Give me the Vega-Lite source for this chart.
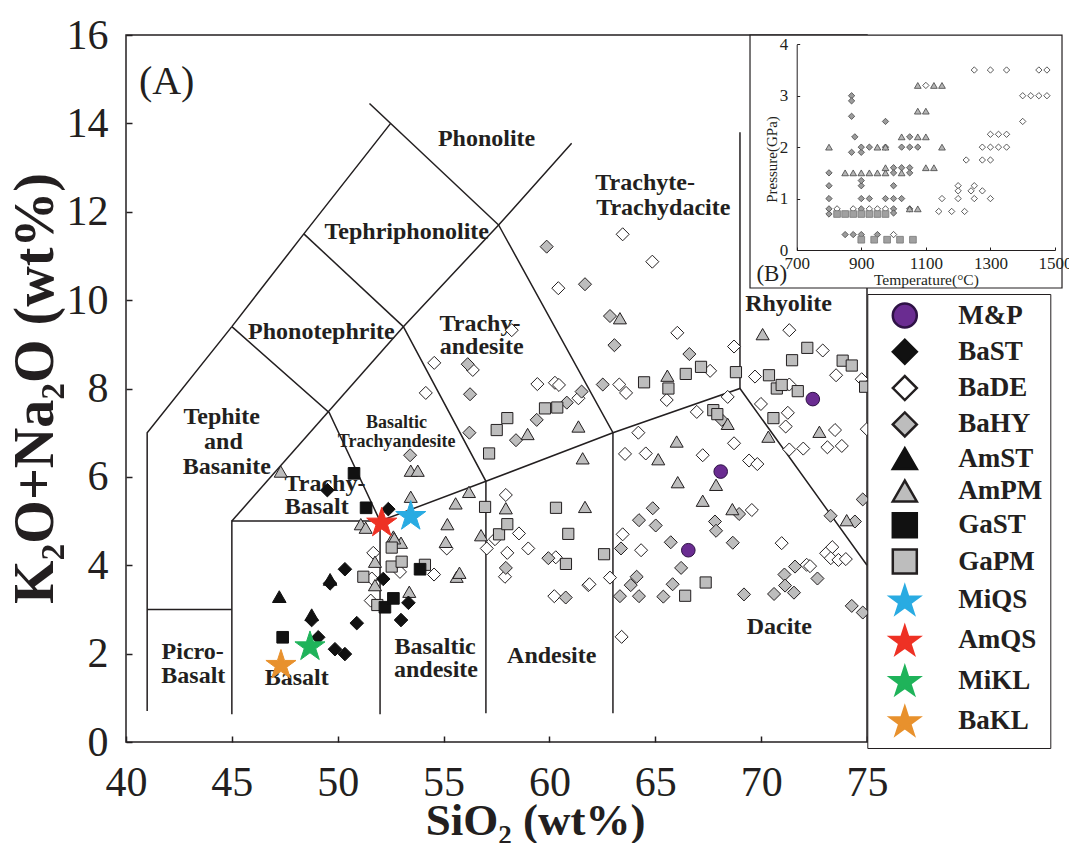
{
"$schema": "https://vega.github.io/schema/vega-lite/v6.json",
"width": 741, "height": 707,
"autosize": {"type": "none"},
"padding": {"left": 126, "top": 35, "right": 202, "bottom": 101},
"background": "white",
"config": {"view": {"stroke": "#231f20", "strokeWidth": 1.5}, "font": "Liberation Serif", "axis": {"grid": false}},
"datasets": {
"bounds": [
{"seg":"a","o":0,"x":51.5,"y":14.45},{"seg":"a","o":1,"x":57.6,"y":11.7},
{"seg":"b","o":0,"x":45,"y":9.4},{"seg":"b","o":1,"x":48.4,"y":11.5},{"seg":"b","o":2,"x":52.5,"y":14.0},
{"seg":"c","o":0,"x":48.4,"y":11.5},{"seg":"c","o":1,"x":53.1,"y":9.4},
{"seg":"d","o":0,"x":53.1,"y":9.4},{"seg":"d","o":1,"x":57.6,"y":11.7},{"seg":"d","o":2,"x":61.05,"y":13.55},
{"seg":"e","o":0,"x":41,"y":0.7},{"seg":"e","o":1,"x":41,"y":7},{"seg":"e","o":2,"x":45,"y":9.4},
{"seg":"f","o":0,"x":45,"y":9.4},{"seg":"f","o":1,"x":49.6,"y":7.45},{"seg":"f","o":2,"x":52,"y":5},
{"seg":"g","o":0,"x":41,"y":3},{"seg":"g","o":1,"x":45,"y":3},
{"seg":"h","o":0,"x":45,"y":0.63},{"seg":"h","o":1,"x":45,"y":5},{"seg":"h","o":2,"x":52,"y":5},
{"seg":"i","o":0,"x":45,"y":5},{"seg":"i","o":1,"x":53.1,"y":9.4},
{"seg":"j","o":0,"x":52,"y":0.63},{"seg":"j","o":1,"x":52,"y":5},{"seg":"j","o":2,"x":57,"y":5.9},{"seg":"j","o":3,"x":63,"y":7},{"seg":"j","o":4,"x":69,"y":8},{"seg":"j","o":5,"x":75,"y":4},
{"seg":"k","o":0,"x":53.1,"y":9.4},{"seg":"k","o":1,"x":57,"y":5.9},{"seg":"k","o":2,"x":57,"y":0.65},
{"seg":"l","o":0,"x":57.6,"y":11.7},{"seg":"l","o":1,"x":63,"y":7},{"seg":"l","o":2,"x":63,"y":0.65},
{"seg":"m","o":0,"x":69,"y":8},{"seg":"m","o":1,"x":69,"y":13.8}
],
"labelsBig": [
{"t":"Phonolite","x":57.03,"y":13.64},{"t":"Tephriphonolite","x":53.26,"y":11.55},
{"t":"Trachyte-","x":64.52,"y":12.66},{"t":"Trachydacite","x":65.38,"y":12.08},
{"t":"Rhyolite","x":71.29,"y":9.91},{"t":"Phonotephrite","x":49.23,"y":9.28},
{"t":"Trachy-","x":56.72,"y":9.47},{"t":"andesite","x":56.8,"y":8.93},
{"t":"Tephite","x":44.52,"y":7.35},{"t":"and","x":44.6,"y":6.78},{"t":"Basanite","x":44.76,"y":6.23},
{"t":"Trachy-","x":49.4,"y":5.85},{"t":"Basalt","x":49.01,"y":5.32},
{"t":"Picro-","x":43.15,"y":2.04},{"t":"Basalt","x":43.18,"y":1.49},
{"t":"Basalt","x":48.06,"y":1.44},
{"t":"Basaltic","x":54.6,"y":2.15},{"t":"andesite","x":54.64,"y":1.63},
{"t":"Andesite","x":60.11,"y":1.95},{"t":"Dacite","x":70.86,"y":2.6}
],
"labelsSmall": [
{"t":"Basaltic","x":52.78,"y":7.23},{"t":"Trachyandesite","x":52.78,"y":6.8}
],
"pts": [
{"g":"BaDE","x":51.68,"y":4.28},{"g":"BaDE","x":52.94,"y":3.85},{"g":"BaDE","x":54.55,"y":3.79},{"g":"BaDE","x":51.56,"y":3.2},{"g":"BaDE","x":51.61,"y":3.7},{"g":"BaDE","x":54.16,"y":7.9},{"g":"BaDE","x":55.15,"y":4.38},{"g":"BaDE","x":57.43,"y":4.59},{"g":"BaDE","x":57.94,"y":5.59},{"g":"BaDE","x":58.56,"y":4.72},{"g":"BaDE","x":57.04,"y":4.38},{"g":"BaDE","x":58.01,"y":4.28},{"g":"BaDE","x":59.0,"y":4.38},{"g":"BaDE","x":60.3,"y":4.18},{"g":"BaDE","x":57.9,"y":3.74},{"g":"BaDE","x":60.23,"y":3.3},{"g":"BaDE","x":61.84,"y":3.55},{"g":"BaDE","x":60.42,"y":10.27},{"g":"BaDE","x":58.22,"y":9.32},{"g":"BaDE","x":54.56,"y":8.58},{"g":"BaDE","x":56.38,"y":8.42},{"g":"BaDE","x":59.43,"y":8.1},{"g":"BaDE","x":60.26,"y":8.13},{"g":"BaDE","x":60.45,"y":8.08},{"g":"BaDE","x":61.37,"y":7.78},{"g":"BaDE","x":63.46,"y":11.49},{"g":"BaDE","x":64.86,"y":10.87},{"g":"BaDE","x":66.04,"y":9.26},{"g":"BaDE","x":68.72,"y":8.95},{"g":"BaDE","x":67.59,"y":8.4},{"g":"BaDE","x":65.54,"y":7.74},{"g":"BaDE","x":63.3,"y":8.09},{"g":"BaDE","x":63.62,"y":7.9},{"g":"BaDE","x":71.33,"y":9.32},{"g":"BaDE","x":72.91,"y":8.86},{"g":"BaDE","x":74.75,"y":8.21},{"g":"BaDE","x":73.54,"y":8.3},{"g":"BaDE","x":69.71,"y":8.27},{"g":"BaDE","x":71.33,"y":8.09},{"g":"BaDE","x":69.99,"y":7.65},{"g":"BaDE","x":71.26,"y":7.45},{"g":"BaDE","x":71.16,"y":7.14},{"g":"BaDE","x":73.49,"y":7.06},{"g":"BaDE","x":74.99,"y":7.08},{"g":"BaDE","x":68.42,"y":7.81},{"g":"BaDE","x":66.96,"y":7.47},{"g":"BaDE","x":64.2,"y":7.0},{"g":"BaDE","x":68.72,"y":6.76},{"g":"BaDE","x":71.33,"y":6.62},{"g":"BaDE","x":71.99,"y":6.64},{"g":"BaDE","x":73.13,"y":6.67},{"g":"BaDE","x":73.81,"y":6.7},{"g":"BaDE","x":63.57,"y":6.52},{"g":"BaDE","x":64.55,"y":6.53},{"g":"BaDE","x":67.24,"y":6.49},{"g":"BaDE","x":69.43,"y":6.37},{"g":"BaDE","x":69.82,"y":6.29},{"g":"BaDE","x":69.56,"y":5.25},{"g":"BaDE","x":63.46,"y":4.7},{"g":"BaDE","x":64.33,"y":4.34},{"g":"BaDE","x":70.97,"y":4.5},{"g":"BaDE","x":73.07,"y":4.27},{"g":"BaDE","x":73.36,"y":4.41},{"g":"BaDE","x":73.29,"y":4.16},{"g":"BaDE","x":73.65,"y":4.12},{"g":"BaDE","x":74.0,"y":4.14},{"g":"BaDE","x":72.15,"y":4.01},{"g":"BaDE","x":72.31,"y":3.98},{"g":"BaDE","x":61.89,"y":3.57},{"g":"BaDE","x":62.86,"y":3.72},{"g":"BaDE","x":63.41,"y":2.38},
{"g":"BaHY","x":53.42,"y":6.49},{"g":"BaHY","x":59.87,"y":11.21},{"g":"BaHY","x":61.68,"y":10.36},{"g":"BaHY","x":56.14,"y":8.55},{"g":"BaHY","x":56.25,"y":7.87},{"g":"BaHY","x":56.22,"y":7.0},{"g":"BaHY","x":60.82,"y":7.68},{"g":"BaHY","x":61.52,"y":7.93},{"g":"BaHY","x":59.4,"y":7.29},{"g":"BaHY","x":58.42,"y":6.83},{"g":"BaHY","x":62.86,"y":9.64},{"g":"BaHY","x":63.07,"y":8.98},{"g":"BaHY","x":66.61,"y":8.78},{"g":"BaHY","x":62.52,"y":8.09},{"g":"BaHY","x":68.14,"y":7.29},{"g":"BaHY","x":59.95,"y":4.16},{"g":"BaHY","x":60.77,"y":3.27},{"g":"BaHY","x":57.94,"y":3.94},{"g":"BaHY","x":74.8,"y":5.49},{"g":"BaHY","x":68.96,"y":5.16},{"g":"BaHY","x":64.88,"y":5.29},{"g":"BaHY","x":64.23,"y":5.02},{"g":"BaHY","x":65.02,"y":4.9},{"g":"BaHY","x":63.38,"y":4.38},{"g":"BaHY","x":65.73,"y":4.52},{"g":"BaHY","x":67.82,"y":4.99},{"g":"BaHY","x":67.87,"y":4.78},{"g":"BaHY","x":68.66,"y":4.51},{"g":"BaHY","x":73.28,"y":5.12},{"g":"BaHY","x":74.43,"y":4.99},{"g":"BaHY","x":71.6,"y":3.97},{"g":"BaHY","x":72.66,"y":3.7},{"g":"BaHY","x":71.1,"y":3.79},{"g":"BaHY","x":71.13,"y":3.54},{"g":"BaHY","x":71.55,"y":3.38},{"g":"BaHY","x":70.61,"y":3.35},{"g":"BaHY","x":69.19,"y":3.34},{"g":"BaHY","x":74.28,"y":3.08},{"g":"BaHY","x":74.8,"y":2.93},{"g":"BaHY","x":64.12,"y":3.74},{"g":"BaHY","x":63.84,"y":3.55},{"g":"BaHY","x":63.33,"y":3.3},{"g":"BaHY","x":64.23,"y":3.3},{"g":"BaHY","x":65.38,"y":3.29},{"g":"BaHY","x":65.82,"y":3.57},{"g":"BaHY","x":66.22,"y":3.94},
{"g":"AmPM","x":47.31,"y":6.12},{"g":"AmPM","x":51.09,"y":4.93},{"g":"AmPM","x":51.32,"y":4.85},{"g":"AmPM","x":53.45,"y":5.55},{"g":"AmPM","x":53.45,"y":6.14},{"g":"AmPM","x":53.78,"y":6.14},{"g":"AmPM","x":52.63,"y":4.65},{"g":"AmPM","x":52.99,"y":4.51},{"g":"AmPM","x":51.76,"y":4.08},{"g":"AmPM","x":51.76,"y":3.55},{"g":"AmPM","x":53.38,"y":3.4},{"g":"AmPM","x":52.67,"y":4.61},{"g":"AmPM","x":61.57,"y":6.42},{"g":"AmPM","x":56.2,"y":5.66},{"g":"AmPM","x":55.57,"y":5.4},{"g":"AmPM","x":57.94,"y":5.29},{"g":"AmPM","x":61.68,"y":5.32},{"g":"AmPM","x":55.18,"y":4.93},{"g":"AmPM","x":55.1,"y":4.53},{"g":"AmPM","x":56.77,"y":4.68},{"g":"AmPM","x":55.62,"y":3.74},{"g":"AmPM","x":55.75,"y":3.83},{"g":"AmPM","x":58.97,"y":6.97},{"g":"AmPM","x":61.37,"y":7.14},{"g":"AmPM","x":63.33,"y":9.59},{"g":"AmPM","x":65.57,"y":8.29},{"g":"AmPM","x":70.07,"y":9.23},{"g":"AmPM","x":72.75,"y":7.02},{"g":"AmPM","x":70.34,"y":6.91},{"g":"AmPM","x":68.42,"y":7.2},{"g":"AmPM","x":66.01,"y":6.8},{"g":"AmPM","x":65.14,"y":6.4},{"g":"AmPM","x":66.06,"y":5.88},{"g":"AmPM","x":67.87,"y":5.82},{"g":"AmPM","x":67.24,"y":5.46},{"g":"AmPM","x":68.64,"y":5.27},{"g":"AmPM","x":74.04,"y":5.02},
{"g":"GaPM","x":52.55,"y":4.4},{"g":"GaPM","x":52.55,"y":3.97},{"g":"GaPM","x":53.02,"y":4.08},{"g":"GaPM","x":54.12,"y":4.01},{"g":"GaPM","x":51.21,"y":3.74},{"g":"GaPM","x":51.87,"y":3.1},{"g":"GaPM","x":57.15,"y":6.53},{"g":"GaPM","x":56.96,"y":5.32},{"g":"GaPM","x":60.31,"y":5.3},{"g":"GaPM","x":57.62,"y":4.7},{"g":"GaPM","x":58.01,"y":4.93},{"g":"GaPM","x":60.89,"y":4.71},{"g":"GaPM","x":60.78,"y":4.03},{"g":"GaPM","x":59.79,"y":7.55},{"g":"GaPM","x":60.37,"y":7.57},{"g":"GaPM","x":58.01,"y":7.33},{"g":"GaPM","x":57.51,"y":7.06},{"g":"GaPM","x":67.16,"y":8.49},{"g":"GaPM","x":66.44,"y":8.33},{"g":"GaPM","x":65.62,"y":8.0},{"g":"GaPM","x":64.47,"y":8.14},{"g":"GaPM","x":68.81,"y":8.37},{"g":"GaPM","x":72.18,"y":8.92},{"g":"GaPM","x":71.46,"y":8.64},{"g":"GaPM","x":73.85,"y":8.63},{"g":"GaPM","x":74.28,"y":8.52},{"g":"GaPM","x":74.91,"y":8.04},{"g":"GaPM","x":70.37,"y":8.3},{"g":"GaPM","x":70.74,"y":8.0},{"g":"GaPM","x":70.97,"y":8.08},{"g":"GaPM","x":71.73,"y":7.94},{"g":"GaPM","x":70.58,"y":7.33},{"g":"GaPM","x":67.74,"y":7.51},{"g":"GaPM","x":67.93,"y":7.42},{"g":"GaPM","x":62.58,"y":4.25},{"g":"GaPM","x":66.41,"y":3.31},{"g":"GaPM","x":67.38,"y":3.61},
{"g":"BaST","x":48.77,"y":2.76},{"g":"BaST","x":49.08,"y":2.37},{"g":"BaST","x":49.87,"y":2.1},{"g":"BaST","x":50.34,"y":1.99},{"g":"BaST","x":50.9,"y":2.69},{"g":"BaST","x":49.64,"y":3.59},{"g":"BaST","x":50.34,"y":3.91},{"g":"BaST","x":49.51,"y":5.7},{"g":"BaST","x":52.39,"y":5.27},{"g":"BaST","x":52.15,"y":3.69},{"g":"BaST","x":53.34,"y":3.15},{"g":"BaST","x":52.99,"y":2.76},
{"g":"AmST","x":47.24,"y":3.29},{"g":"AmST","x":48.77,"y":2.88},{"g":"AmST","x":49.64,"y":3.68},
{"g":"GaST","x":47.4,"y":2.37},{"g":"GaST","x":50.77,"y":6.08},{"g":"GaST","x":51.34,"y":5.3},{"g":"GaST","x":53.89,"y":3.91},{"g":"GaST","x":52.23,"y":3.05},{"g":"GaST","x":52.63,"y":3.25},
{"g":"M&P","x":72.44,"y":7.76},{"g":"M&P","x":68.09,"y":6.12},{"g":"M&P","x":66.56,"y":4.34},
{"g":"MiQS","x":53.45,"y":5.14},{"g":"AmQS","x":52.08,"y":4.99},{"g":"MiKL","x":48.69,"y":2.19},{"g":"BaKL","x":47.32,"y":1.77}
],
"inset": [
{"g":"BaDE","t":1250,"p":3.5},{"g":"BaDE","t":1300,"p":3.5},{"g":"BaDE","t":1350,"p":3.5},{"g":"BaDE","t":1450,"p":3.5},{"g":"BaDE","t":1475,"p":3.5},{"g":"BaDE","t":1400,"p":3.0},{"g":"BaDE","t":1425,"p":3.0},{"g":"BaDE","t":1450,"p":3.0},{"g":"BaDE","t":1475,"p":3.0},{"g":"BaDE","t":1400,"p":2.5},{"g":"BaDE","t":1100,"p":3.2},{"g":"BaDE","t":1300,"p":2.25},{"g":"BaDE","t":1325,"p":2.25},{"g":"BaDE","t":1350,"p":2.25},{"g":"BaDE","t":1275,"p":2.0},{"g":"BaDE","t":1300,"p":2.0},{"g":"BaDE","t":1325,"p":2.0},{"g":"BaDE","t":1350,"p":2.0},{"g":"BaDE","t":1225,"p":1.75},{"g":"BaDE","t":1275,"p":1.75},{"g":"BaDE","t":1300,"p":1.75},{"g":"BaDE","t":1200,"p":1.25},{"g":"BaDE","t":1200,"p":1.15},{"g":"BaDE","t":1240,"p":1.15},{"g":"BaDE","t":1250,"p":1.25},{"g":"BaDE","t":1275,"p":1.15},{"g":"BaDE","t":1150,"p":1.0},{"g":"BaDE","t":1200,"p":1.0},{"g":"BaDE","t":1250,"p":1.0},{"g":"BaDE","t":1300,"p":1.0},{"g":"BaDE","t":1140,"p":0.75},{"g":"BaDE","t":1180,"p":0.75},{"g":"BaDE","t":1220,"p":0.75},{"g":"BaDE","t":1000,"p":0.3},{"g":"BaDE","t":825,"p":0.8},{"g":"BaDE","t":875,"p":0.8},{"g":"BaDE","t":925,"p":0.8},{"g":"BaDE","t":950,"p":0.8},{"g":"BaDE","t":975,"p":0.8},
{"g":"BaHY","t":870,"p":3.0},{"g":"BaHY","t":870,"p":2.9},{"g":"BaHY","t":870,"p":2.6},{"g":"BaHY","t":880,"p":2.2},{"g":"BaHY","t":870,"p":1.9},{"g":"BaHY","t":900,"p":1.9},{"g":"BaHY","t":975,"p":2.5},{"g":"BaHY","t":900,"p":2.0},{"g":"BaHY","t":925,"p":2.0},{"g":"BaHY","t":975,"p":2.0},{"g":"BaHY","t":1025,"p":2.0},{"g":"BaHY","t":1050,"p":2.0},{"g":"BaHY","t":1075,"p":2.0},{"g":"BaHY","t":1050,"p":2.2},{"g":"BaHY","t":1000,"p":1.6},{"g":"BaHY","t":1025,"p":1.6},{"g":"BaHY","t":1050,"p":1.6},{"g":"BaHY","t":800,"p":1.5},{"g":"BaHY","t":1000,"p":1.5},{"g":"BaHY","t":1050,"p":1.5},{"g":"BaHY","t":800,"p":1.25},{"g":"BaHY","t":900,"p":1.25},{"g":"BaHY","t":900,"p":1.35},{"g":"BaHY","t":1000,"p":1.25},{"g":"BaHY","t":800,"p":1.0},{"g":"BaHY","t":900,"p":1.0},{"g":"BaHY","t":925,"p":1.0},{"g":"BaHY","t":975,"p":1.0},{"g":"BaHY","t":1000,"p":1.0},{"g":"BaHY","t":1025,"p":1.0},{"g":"BaHY","t":800,"p":0.8},{"g":"BaHY","t":900,"p":0.8},{"g":"BaHY","t":1000,"p":0.8},{"g":"BaHY","t":1000,"p":0.72},{"g":"BaHY","t":1050,"p":0.8},{"g":"BaHY","t":800,"p":0.7},{"g":"BaHY","t":850,"p":0.3},{"g":"BaHY","t":875,"p":0.3},{"g":"BaHY","t":900,"p":0.3},{"g":"BaHY","t":950,"p":0.3},
{"g":"AmPM","t":800,"p":2.0},{"g":"AmPM","t":950,"p":2.0},{"g":"AmPM","t":1150,"p":2.0},{"g":"AmPM","t":975,"p":2.0},{"g":"AmPM","t":1075,"p":3.2},{"g":"AmPM","t":1125,"p":3.2},{"g":"AmPM","t":1150,"p":3.2},{"g":"AmPM","t":1075,"p":2.7},{"g":"AmPM","t":1100,"p":2.7},{"g":"AmPM","t":850,"p":1.5},{"g":"AmPM","t":875,"p":1.5},{"g":"AmPM","t":900,"p":1.5},{"g":"AmPM","t":925,"p":1.5},{"g":"AmPM","t":950,"p":1.5},{"g":"AmPM","t":975,"p":1.5},{"g":"AmPM","t":975,"p":1.6},{"g":"AmPM","t":1025,"p":1.5},{"g":"AmPM","t":1100,"p":1.6},{"g":"AmPM","t":1125,"p":1.6},{"g":"AmPM","t":1025,"p":2.2},{"g":"AmPM","t":1075,"p":2.2},{"g":"AmPM","t":1100,"p":2.2},{"g":"AmPM","t":1075,"p":0.8},{"g":"AmPM","t":1050,"p":0.8},
{"g":"GaPM","t":825,"p":0.7},{"g":"GaPM","t":850,"p":0.7},{"g":"GaPM","t":875,"p":0.7},{"g":"GaPM","t":900,"p":0.7},{"g":"GaPM","t":925,"p":0.7},{"g":"GaPM","t":950,"p":0.7},{"g":"GaPM","t":975,"p":0.7},{"g":"GaPM","t":900,"p":0.2},{"g":"GaPM","t":940,"p":0.2},{"g":"GaPM","t":980,"p":0.2},{"g":"GaPM","t":1020,"p":0.2},{"g":"GaPM","t":1060,"p":0.2}
]
},
"layer": [
{
"layer": [
{"data": {"name": "bounds"}, "mark": {"type": "line", "stroke": "#231f20", "strokeWidth": 1.5},
 "encoding": {
  "x": {"field": "x", "type": "quantitative", "scale": {"domain": [40, 75], "nice": false, "zero": false},
   "axis": {"values": [40,45,50,55,60,65,70,75], "domain": false, "tickSize": -6, "tickWidth": 1.5, "tickColor": "#231f20", "labelFontSize": 42, "labelColor": "#231f20", "labelPadding": 26, "labelDx": 12, "labelFlush": false, "labelOverlap": false, "title": "SiO₂ (wt%)", "titleFontSize": 45, "titleFontWeight": "bold", "titleColor": "#231f20", "titleX": 409, "titleY": 92, "titleBaseline": "alphabetic"}},
  "y": {"field": "y", "type": "quantitative", "scale": {"domain": [0, 16], "nice": false, "zero": false},
   "axis": {"values": [0,2,4,6,8,10,12,14,16], "domain": false, "tickSize": -6, "tickWidth": 1.5, "tickColor": "#231f20", "labelFontSize": 42, "labelColor": "#231f20", "labelPadding": 24, "labelDy": -2, "labelFlush": false, "labelOverlap": false, "title": "K₂O+Na₂O (wt%)", "titleFontSize": 56, "titleFontWeight": "bold", "titleColor": "#231f20", "titleX": -74, "titleY": 353, "titleAngle": -90, "titleAlign": "center", "titleBaseline": "alphabetic"}},
  "detail": {"field": "seg"},
  "order": {"field": "o"}
 }},
{"data": {"name": "labelsBig"}, "mark": {"type": "text", "font": "Liberation Serif", "fontWeight": "bold", "fontSize": 24, "color": "#231f20", "align": "center", "baseline": "middle"},
 "encoding": {"x": {"field": "x", "type": "quantitative"}, "y": {"field": "y", "type": "quantitative"}, "text": {"field": "t"}}},
{"data": {"name": "labelsSmall"}, "mark": {"type": "text", "font": "Liberation Serif", "fontWeight": "bold", "fontSize": 18, "color": "#231f20", "align": "center", "baseline": "middle"},
 "encoding": {"x": {"field": "x", "type": "quantitative"}, "y": {"field": "y", "type": "quantitative"}, "text": {"field": "t"}}},
{"data": {"values": [{}]}, "mark": {"type": "text", "text": "(A)", "font": "Liberation Serif", "fontSize": 40, "color": "#231f20", "align": "center", "baseline": "middle"},
 "encoding": {"x": {"datum": 41.92, "type": "quantitative"}, "y": {"datum": 14.94, "type": "quantitative"}}},
{"data": {"name": "pts"}, "transform": [{"filter": {"field": "g", "oneOf": ["BaDE","BaHY","AmPM"]}}],
 "mark": {"type": "point", "filled": true, "opacity": 1, "strokeWidth": 1, "size": 170},
 "encoding": {
  "x": {"field": "x", "type": "quantitative"},
  "y": {"field": "y", "type": "quantitative"},
  "shape": {"field": "g", "type": "nominal",
   "scale": {"domain": ["M&P","BaST","BaDE","BaHY","AmST","AmPM","GaST","GaPM","MiQS","AmQS","MiKL","BaKL"],
    "range": ["circle","diamond","diamond","diamond","triangle-up","triangle-up","square","square",
     "M0,-1.13L0.281,-0.266L1.189,-0.266L0.454,0.268L0.735,1.131L0,0.598L-0.735,1.131L-0.454,0.268L-1.189,-0.266L-0.281,-0.266Z",
     "M0,-1.13L0.281,-0.266L1.189,-0.266L0.454,0.268L0.735,1.131L0,0.598L-0.735,1.131L-0.454,0.268L-1.189,-0.266L-0.281,-0.266Z",
     "M0,-1.13L0.281,-0.266L1.189,-0.266L0.454,0.268L0.735,1.131L0,0.598L-0.735,1.131L-0.454,0.268L-1.189,-0.266L-0.281,-0.266Z",
     "M0,-1.13L0.281,-0.266L1.189,-0.266L0.454,0.268L0.735,1.131L0,0.598L-0.735,1.131L-0.454,0.268L-1.189,-0.266L-0.281,-0.266Z"]},
   "legend": {"orient": "none", "legendX": 741.3, "legendY": 259, "title": null, "padding": 8, "fillColor": "white", "strokeColor": "#231f20", "symbolSize": 576, "symbolStrokeWidth": 2.5, "labelFont": "Liberation Serif", "labelFontSize": 27, "labelFontWeight": "bold", "labelColor": "#231f20", "labelOffset": 40, "symbolOffset": 16, "rowPadding": 1.3, "labelLimit": 200}},
  "fill": {"field": "g", "type": "nominal",
   "scale": {"domain": ["M&P","BaST","BaDE","BaHY","AmST","AmPM","GaST","GaPM","MiQS","AmQS","MiKL","BaKL"],
    "range": ["#6a2c91","#111111","#ffffff","#bdbdbd","#111111","#bdbdbd","#111111","#bdbdbd","#29abe2","#ee3124","#1fb35a","#e8912d"]}},
  "stroke": {"field": "g", "type": "nominal",
   "scale": {"domain": ["M&P","BaST","BaDE","BaHY","AmST","AmPM","GaST","GaPM","MiQS","AmQS","MiKL","BaKL"],
    "range": ["#2e1245","#111111","#231f20","#231f20","#111111","#231f20","#111111","#231f20","#29abe2","#ee3124","#1fb35a","#e8912d"]}}
 }},
{"data": {"name": "pts"}, "transform": [{"filter": {"field": "g", "oneOf": ["GaPM"]}}],
 "mark": {"type": "point", "filled": true, "opacity": 1, "strokeWidth": 1, "size": 125},
 "encoding": {"x": {"field": "x", "type": "quantitative"}, "y": {"field": "y", "type": "quantitative"},
  "shape": {"field": "g", "type": "nominal"}, "fill": {"field": "g", "type": "nominal"}, "stroke": {"field": "g", "type": "nominal"}}},
{"data": {"name": "pts"}, "transform": [{"filter": {"field": "g", "oneOf": ["BaST","AmST","M&P"]}}],
 "mark": {"type": "point", "filled": true, "opacity": 1, "strokeWidth": 1, "size": 185},
 "encoding": {"x": {"field": "x", "type": "quantitative"}, "y": {"field": "y", "type": "quantitative"},
  "shape": {"field": "g", "type": "nominal"}, "fill": {"field": "g", "type": "nominal"}, "stroke": {"field": "g", "type": "nominal"}}},
{"data": {"name": "pts"}, "transform": [{"filter": {"field": "g", "oneOf": ["GaST"]}}],
 "mark": {"type": "point", "filled": true, "opacity": 1, "strokeWidth": 1, "size": 135},
 "encoding": {"x": {"field": "x", "type": "quantitative"}, "y": {"field": "y", "type": "quantitative"},
  "shape": {"field": "g", "type": "nominal"}, "fill": {"field": "g", "type": "nominal"}, "stroke": {"field": "g", "type": "nominal"}}},
{"data": {"name": "pts"}, "transform": [{"filter": {"field": "g", "oneOf": ["MiQS","AmQS","MiKL","BaKL"]}}],
 "mark": {"type": "point", "filled": true, "opacity": 1, "strokeWidth": 1, "size": 640},
 "encoding": {"x": {"field": "x", "type": "quantitative"}, "y": {"field": "y", "type": "quantitative"},
  "shape": {"field": "g", "type": "nominal"}, "fill": {"field": "g", "type": "nominal"}, "stroke": {"field": "g", "type": "nominal"}}}
]
},
{
"layer": [
{"data": {"values": [{}]}, "mark": {"type": "rect", "fill": "white", "stroke": "#231f20", "strokeWidth": 1.2},
 "encoding": {
  "x": {"datum": 555.4, "type": "quantitative", "scale": {"domain": [700, 1500], "range": [670.7, 929], "nice": false, "zero": false},
   "axis": {"orient": "bottom", "offset": -492, "values": [700,900,1100,1300,1500], "format": "d", "tickSize": -3, "tickColor": "#231f20", "domainColor": "#231f20", "labelFontSize": 17, "labelColor": "#231f20", "labelPadding": 8, "labelFlush": false, "labelOverlap": false, "title": "Temperature(°C)", "titleFontSize": 15.5, "titleFontWeight": "normal", "titleColor": "#231f20", "titleY": 34, "titleBaseline": "alphabetic", "zindex": 1}},
  "x2": {"datum": 1521.7},
  "y": {"datum": 4.18, "type": "quantitative", "scale": {"domain": [0, 4], "range": [215, 9.3], "nice": false, "zero": false},
   "axis": {"orient": "left", "offset": -670.7, "values": [0,1,2,3,4], "format": "d", "tickSize": -3, "tickColor": "#231f20", "domainColor": "#231f20", "labelFontSize": 17, "labelColor": "#231f20", "labelPadding": 12, "labelFlush": false, "labelOverlap": false, "title": "Pressure(GPa)", "titleFontSize": 15, "titleFontWeight": "normal", "titleColor": "#231f20", "titleX": -20, "titleY": 124, "titleAngle": -90, "titleAlign": "center", "titleBaseline": "alphabetic", "zindex": 1}},
  "y2": {"datum": -0.739}
 }},
{"data": {"name": "inset"}, "transform": [{"filter": {"field": "g", "equal": "BaDE"}}],
 "mark": {"type": "point", "shape": "diamond", "size": 40, "filled": true, "fill": "white", "stroke": "#333333", "strokeWidth": 0.8, "opacity": 1},
 "encoding": {"x": {"field": "t", "type": "quantitative"}, "y": {"field": "p", "type": "quantitative"}}},
{"data": {"name": "inset"}, "transform": [{"filter": {"field": "g", "equal": "BaHY"}}],
 "mark": {"type": "point", "shape": "diamond", "size": 40, "filled": true, "fill": "#9c9c9c", "stroke": "#444444", "strokeWidth": 0.8, "opacity": 1},
 "encoding": {"x": {"field": "t", "type": "quantitative"}, "y": {"field": "p", "type": "quantitative"}}},
{"data": {"name": "inset"}, "transform": [{"filter": {"field": "g", "equal": "AmPM"}}],
 "mark": {"type": "point", "shape": "triangle-up", "size": 45, "filled": true, "fill": "#b5b5b5", "stroke": "#444444", "strokeWidth": 0.8, "opacity": 1},
 "encoding": {"x": {"field": "t", "type": "quantitative"}, "y": {"field": "p", "type": "quantitative"}}},
{"data": {"name": "inset"}, "transform": [{"filter": {"field": "g", "equal": "GaPM"}}],
 "mark": {"type": "point", "shape": "square", "size": 45, "filled": true, "fill": "#a0a0a0", "stroke": "#777777", "strokeWidth": 0.8, "opacity": 1},
 "encoding": {"x": {"field": "t", "type": "quantitative"}, "y": {"field": "p", "type": "quantitative"}}},
{"data": {"values": [{}]}, "mark": {"type": "text", "text": "(B)", "font": "Liberation Serif", "fontSize": 23, "color": "#231f20", "align": "center", "baseline": "middle"},
 "encoding": {"x": {"datum": 622.6, "type": "quantitative"}, "y": {"datum": -0.467, "type": "quantitative"}}}
]
}
],
"resolve": {"scale": {"x": "independent", "y": "independent"}, "axis": {"x": "independent", "y": "independent"}}
}
